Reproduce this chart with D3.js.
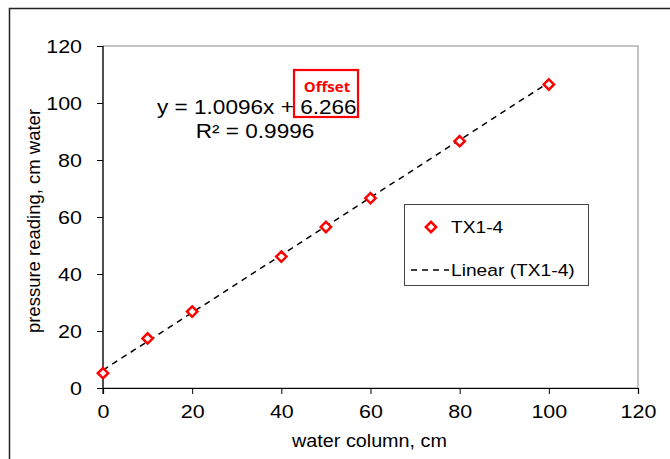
<!DOCTYPE html>
<html>
<head>
<meta charset="utf-8">
<script src="https://cdn.jsdelivr.net/npm/d3@7"></script>
<style>
  body { margin: 0; background: #fff; }
  svg text { font-family: "Liberation Sans", Arial, sans-serif; fill: #000; }
</style>
</head>
<body>
<div id="chart"></div>
<script>
// data
var waterCm = [0, 10, 20, 40, 50, 60, 80, 100];
var pressure = [5.2, 17.4, 26.8, 46.1, 56.5, 66.6, 86.6, 106.5];
var slope = 1.0096;
var offset = 6.266;
var rSquared = 0.9996;
var xTicks = [0, 20, 40, 60, 80, 100, 120];
var yTicks = [0, 20, 40, 60, 80, 100, 120];
var seriesName = "TX1-4";

var W = 670, H = 459;
var margin = { top: 46, right: 32, bottom: 71, left: 103 };
var width = W - margin.left - margin.right;
var height = H - margin.top - margin.bottom;
var stretchX = 1.13; // text in the original is a bit wide

var svg = d3.select("#chart").append("svg")
    .attr("width", W)
    .attr("height", H);

// widen a text element around its own anchor point
function stretch(sel) {
    sel.attr("transform", function() {
        var t = d3.select(this);
        var tx = +t.attr("x") || 0;
        return "translate(" + tx + ",0) scale(" + stretchX + ",1) translate(" + (-tx) + ",0)";
    });
}

// outer chart border
svg.append("rect")
    .attr("x", 9.5).attr("y", 8.5)
    .attr("width", W + 10).attr("height", H + 10)
    .attr("fill", "none")
    .attr("stroke", "#222")
    .attr("stroke-width", 1.5);

var g = svg.append("g")
    .attr("transform", "translate(" + margin.left + "," + margin.top + ")");

var x = d3.scaleLinear().domain([0, 120]).range([0, width]);
var y = d3.scaleLinear().domain([0, 120]).range([height, 0]);

// plot area frame (top/right)
g.append("rect")
    .attr("x", 0).attr("y", 0)
    .attr("width", width).attr("height", height)
    .attr("fill", "none")
    .attr("stroke", "#8a8a8a")
    .attr("stroke-width", 1);

// axes
var xAxis = g.append("g")
    .attr("transform", "translate(0," + height + ")")
    .call(d3.axisBottom(x).tickValues(xTicks).tickSize(6).tickPadding(6).tickFormat(d3.format("d")));
var yAxis = g.append("g")
    .call(d3.axisLeft(y).tickValues(yTicks).tickSize(6).tickPadding(15).tickFormat(d3.format("d")));

[xAxis, yAxis].forEach(function(a) {
    a.select(".domain").attr("stroke", "#000").attr("stroke-width", 1.2);
    a.selectAll(".tick line").attr("stroke", "#000");
    a.selectAll(".tick text")
        .style("font-family", "Liberation Sans, Arial, sans-serif")
        .style("font-size", "19px")
        .attr("fill", "#000")
        .call(stretch);
});
yAxis.select(".domain").attr("d", "M0," + (height + 6) + "V0");
xAxis.selectAll(".tick text").attr("dy", "0.95em");

// axis titles
svg.append("text")
    .attr("x", margin.left + width / 2 - 1)
    .attr("y", 447)
    .attr("text-anchor", "middle")
    .style("font-size", "17.5px")
    .text("water column, cm")
    .call(stretch);

svg.append("text")
    .attr("transform", "translate(40," + (margin.top + height / 2 + 4) + ") rotate(-90)")
    .attr("text-anchor", "middle")
    .style("font-size", "18.5px")
    .text("pressure reading, cm water");

// linear trendline
var trend = [0, 100].map(function(v) { return { k: v, e: slope * v + offset }; });
g.append("path")
    .datum(trend)
    .attr("fill", "none")
    .attr("stroke", "#000")
    .attr("stroke-width", 1.5)
    .attr("stroke-dasharray", "6,5")
    .attr("d", d3.line().x(function(d) { return x(d.k); }).y(function(d) { return y(d.e); }));

// markers
var diamond = d3.symbol().type(d3.symbolDiamond2).size(68);
g.selectAll(".pt")
    .data(waterCm.map(function(v, i) { return { k: v, e: pressure[i] }; }))
    .enter().append("path")
    .attr("class", "pt")
    .attr("transform", function(d) { return "translate(" + x(d.k) + "," + y(d.e) + ")"; })
    .attr("d", diamond)
    .attr("fill", "#fff")
    .attr("stroke", "#f00")
    .attr("stroke-width", 2.5);

// trendline equation
svg.append("text")
    .attr("x", 157).attr("y", 114)
    .style("font-size", "20px")
    .text("y = " + slope.toFixed(4) + "x + " + offset.toFixed(3))
    .call(stretch);
svg.append("text")
    .attr("x", 255).attr("y", 138)
    .attr("text-anchor", "middle")
    .style("font-size", "20px")
    .text("R\u00b2 = " + rSquared.toFixed(4))
    .call(stretch);

// offset callout
svg.append("rect")
    .attr("x", 294).attr("y", 70)
    .attr("width", 64).attr("height", 47)
    .attr("fill", "none")
    .attr("stroke", "#f00")
    .attr("stroke-width", 2.2);
svg.append("text")
    .attr("x", 327).attr("y", 92)
    .attr("text-anchor", "middle")
    .style("font-family", "Open Sans, sans-serif")
    .style("font-weight", "bold")
    .style("font-size", "15px")
    .style("fill", "#f00")
    .text("Offset");

// legend
var lg = svg.append("g").attr("transform", "translate(404,204)");
lg.append("rect")
    .attr("x", 0.5).attr("y", 0.5)
    .attr("width", 184).attr("height", 81)
    .attr("fill", "#fff")
    .attr("stroke", "#444")
    .attr("stroke-width", 1);
lg.append("path")
    .attr("transform", "translate(27,23)")
    .attr("d", diamond)
    .attr("fill", "#fff")
    .attr("stroke", "#f00")
    .attr("stroke-width", 2.5);
lg.append("text")
    .attr("x", 47).attr("y", 29)
    .style("font-size", "17px")
    .text(seriesName)
    .call(stretch);
lg.append("line")
    .attr("x1", 7).attr("x2", 45)
    .attr("y1", 66).attr("y2", 66)
    .attr("stroke", "#000")
    .attr("stroke-width", 1.5)
    .attr("stroke-dasharray", "6,5");
lg.append("text")
    .attr("x", 47).attr("y", 72)
    .style("font-size", "17px")
    .text("Linear (" + seriesName + ")")
    .call(stretch);
</script>
</body>
</html>
